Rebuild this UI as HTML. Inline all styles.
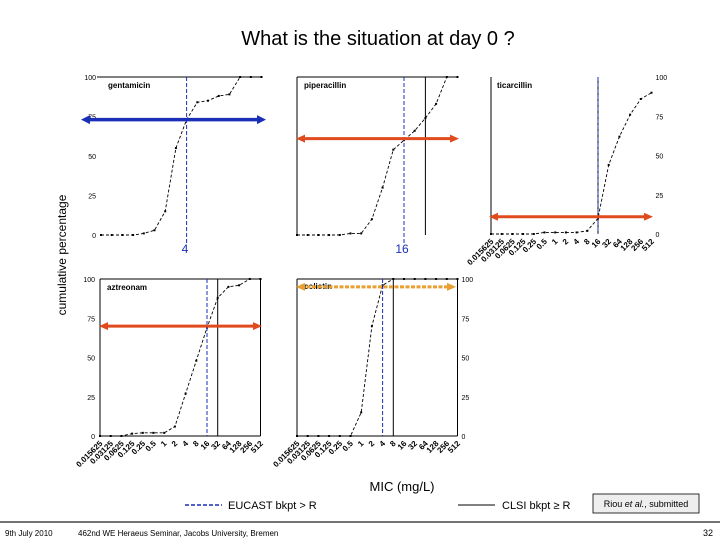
<!DOCTYPE html>
<html><head><meta charset="utf-8"><style>
body{margin:0;background:#fff;}
svg{display:block;font-family:"Liberation Sans",sans-serif;}
</style></head><body>
<svg id="chart" width="720" height="540" viewBox="0 0 720 540">
<defs>
<marker id="ab" markerUnits="userSpaceOnUse" markerWidth="9" markerHeight="9" refX="4" refY="4.5" orient="auto-start-reverse"><path d="M0,0 L9,4.5 L0,9 z" fill="#1a2fb8"/></marker>
<marker id="ao" markerUnits="userSpaceOnUse" markerWidth="9" markerHeight="8" refX="4" refY="4" orient="auto-start-reverse"><path d="M0,0 L9,4 L0,8 z" fill="#e04a1c"/></marker>
<marker id="ay" markerUnits="userSpaceOnUse" markerWidth="9" markerHeight="8" refX="4" refY="4" orient="auto-start-reverse"><path d="M0,0 L9,4 L0,8 z" fill="#e8a030"/></marker>
</defs>
<text x="378" y="45" font-size="20" text-anchor="middle">What is the situation at day 0 ?</text>
<text transform="translate(66,255) rotate(-90)" font-size="12" text-anchor="middle">cumulative percentage</text>
<text x="185" y="253" font-size="12" fill="#1a2fb8" text-anchor="middle">4</text>
<text x="402" y="253" font-size="12" fill="#1a2fb8" text-anchor="middle">16</text>
<text x="402" y="491" font-size="13" text-anchor="middle">MIC (mg/L)</text>
<line x1="185" y1="505" x2="222" y2="505" stroke="#1a2fb8" stroke-width="1.5" stroke-dasharray="4,2"/>
<text x="228" y="509" font-size="11">EUCAST bkpt &gt; R</text>
<line x1="458" y1="505" x2="495" y2="505" stroke="#000" stroke-width="1"/>
<text x="502" y="509" font-size="11">CLSI bkpt ≥ R</text>
<rect x="593" y="494" width="106" height="19" fill="#eee" stroke="#000" stroke-width="0.8"/>
<text x="646" y="507" font-size="9" text-anchor="middle">Riou <tspan font-style="italic">et al.</tspan>, submitted</text>
<line x1="0" y1="522" x2="720" y2="522" stroke="#222" stroke-width="1.2"/>
<text x="5" y="536" font-size="8">9th July 2010</text>
<text x="78" y="536" font-size="8">462nd WE Heraeus Seminar, Jacobs University, Bremen</text>
<text x="713" y="536" font-size="9" text-anchor="end">32</text>
<g id="panels"></g>
</svg>
<script>
const mic = ["0.015625","0.03125","0.0625","0.125","0.25","0.5","1","2","4","8","16","32","64","128","256","512"];
const drugs = ["gentamicin","piperacillin","ticarcillin","aztreonam","colistin"];
const gentamicin = [0,0,0,0,1,3,15,55,73,84,85,88,89,100,100,100];
const piperacillin = [0,0,0,0,0,1,1,10,30,54,60,66,74,83,100,100];
const ticarcillin = [0,0,0,0,0,1,1,1,1,2,10,44,62,76,86,90];
const aztreonam = [0,0,0,1.5,2,2,2,6,27,48,69,88,95,96,100,100];
const colistin = [0,0,0,0,0,0,15,70,96,100,100,100,100,100,100,100];
const eucastIdx = [8,10,10,10,8];
const clsiIdx = [null,12,10,11,9];
const arrowLevel = [73,61,11,70,95];
const yTicks = [0,25,50,75,100];

const series = [gentamicin,piperacillin,ticarcillin,aztreonam,colistin];
const L = [
 {x0:101,y0:235,y1:77,top:true,left:false,right:false,bottom:false,xl:false,yside:'l',ar:[82,265],col:'b'},
 {x0:297,y0:235,y1:77,top:true,left:true,right:false,bottom:false,xl:false,yside:null,ar:[297,458],col:'o'},
 {x0:491,y0:234,y1:77,top:false,left:true,right:false,bottom:false,xl:true,yside:'r',ar:[490,652],col:'o'},
 {x0:100,y0:436,y1:279,top:true,left:true,right:true,bottom:true,xl:true,yside:'l',ar:[100,261],col:'o'},
 {x0:297,y0:436,y1:279,top:true,left:true,right:true,bottom:true,xl:true,yside:'r',ar:[297,455],col:'y'}
];
const dx = 10.7;
const NS="http://www.w3.org/2000/svg";
const root=document.getElementById('panels');
function mk(t,a,p){const e=document.createElementNS(NS,t);for(const k in a)e.setAttribute(k,a[k]);(p||root).appendChild(e);return e;}
drugs.forEach((d,i)=>{
 const c=L[i];
 const X=j=>c.x0+j*dx;
 const Y=v=>c.y0-(c.y0-c.y1)*v/100;
 const xr=X(mic.length-1);
 const g=mk('g',{});
 
 
 if(c.top){const top=mk('line',{x1:c.left?c.x0:c.x0-4,y1:c.y1,x2:xr,y2:c.y1,stroke:'#000','stroke-width':1},g);
  
  }
 if(c.left){const l=mk('line',{x1:c.x0,y1:c.y1,x2:c.x0,y2:c.y0,stroke:'#000','stroke-width':1},g);
  
  }
 if(c.right){const l=mk('line',{x1:xr,y1:c.y1,x2:xr,y2:c.y0,stroke:'#000','stroke-width':1},g);
  
  }
 if(c.bottom){const l=mk('line',{x1:c.x0,y1:c.y0,x2:xr,y2:c.y0,stroke:'#000','stroke-width':1},g);
  
  }
 const nm=mk('text',{x:(i==2?c.x0+6:c.x0+7),y:c.y1+(i==4?10:11),'font-size':8,'font-weight':'bold'},g);
 nm.textContent=d;
 
 
 if(c.yside){yTicks.forEach(t=>{
  const tx=mk('text',{x:c.yside=='l'?c.x0-5:xr+4,y:Y(t)+3,'font-size':7,'text-anchor':c.yside=='l'?'end':'start'},g);
  tx.textContent=t;
  
  
 });}
 if(c.xl){mic.forEach((m,j)=>{
  const tx=mk('text',{transform:`translate(${X(j)+3},${c.y0+8}) rotate(-45)`,'font-size':8,'font-weight':'bold','text-anchor':'end'},g);
  tx.textContent=m;
  
  
 });}
 const s=series[i];
 const pl=mk('polyline',{points:s.map((v,j)=>X(j)+','+Y(v)).join(' '),fill:'none',stroke:'#000','stroke-width':0.9,'stroke-dasharray':'3,2'},g);
 
 
 s.forEach((v,j)=>{
  const p=mk('rect',{x:X(j)-1,y:Y(v)-1,width:2,height:2,fill:'#000'},g);
  
  
 });
 if(clsiIdx[i]!==null){const l=mk('line',{x1:X(clsiIdx[i]),y1:c.y1,x2:X(clsiIdx[i]),y2:c.y0,stroke:'#000','stroke-width':1},g);
  
  }
 const e=mk('line',{x1:X(eucastIdx[i]),y1:c.y1,x2:X(eucastIdx[i]),y2:c.y0+(i<2?10:0),stroke:'#1a2fb8','stroke-width':1,'stroke-dasharray':'4,2'},g);
 
 
 const colr={b:'#1a2fb8',o:'#e04a1c',y:'#e8a030'}[c.col];
 const a=mk('line',{x1:c.ar[0]+4,y1:Y(arrowLevel[i]),x2:c.ar[1]-4,y2:Y(arrowLevel[i]),stroke:colr,'stroke-width':c.col=='b'?3.5:3,'marker-start':'url(#a'+c.col+')','marker-end':'url(#a'+c.col+')'},g);
 if(c.col=='y')a.setAttribute('stroke-dasharray','4,1.5');
 
 
});
</script>
</body></html>
